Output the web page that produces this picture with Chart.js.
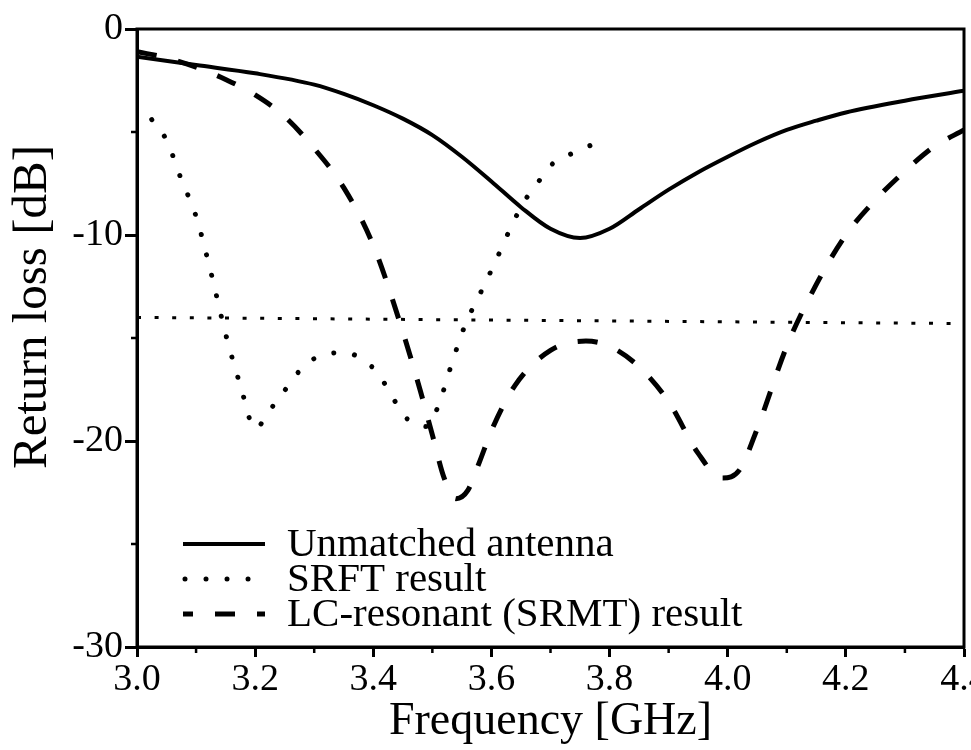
<!DOCTYPE html>
<html>
  <head>
    <title>Return loss</title>
    <script src="https://cdn.jsdelivr.net/npm/chart.js"></script>
    <style>
      html, body { margin: 0; padding: 0; background: #fff; overflow: hidden; }
      #box { width: 1000px; height: 750px; }
    </style>
  </head>
  <body>
    <div id="box">
      <canvas id="grafico" width="1000" height="750"></canvas>
    </div>

<script>
  // valores (frequencia em GHz, perda de retorno em dB)
  const freqSemCasamento = [3.00, 3.10, 3.20, 3.30, 3.35, 3.40, 3.45, 3.50, 3.55, 3.60, 3.65, 3.70, 3.75,
    3.80, 3.85, 3.90, 3.95, 4.00, 4.05, 4.10, 4.15, 4.20, 4.30, 4.40];
  const perdaSemCasamento = [-1.35, -1.75, -2.15, -2.7, -3.15, -3.7, -4.35, -5.15, -6.2, -7.4, -8.65, -9.7, -10.15,
    -9.7, -8.75, -7.8, -6.95, -6.2, -5.5, -4.9, -4.45, -4.05, -3.48, -3.0];

  const freqSRFT = [3.025, 3.05, 3.075, 3.10, 3.125, 3.15, 3.175, 3.20, 3.225, 3.25, 3.275, 3.30, 3.35,
    3.385, 3.41, 3.435, 3.46, 3.49, 3.51, 3.53, 3.555, 3.58, 3.605, 3.635, 3.655, 3.68, 3.705, 3.74, 3.78];
  const perdaSRFT = [-4.4, -5.4, -7.3, -9.1, -11.8, -14.8, -17.3, -19.4, -18.5, -17.55, -16.6, -16.0, -15.7,
    -16.1, -16.8, -18.0, -19.0, -19.3, -18.3, -16.5, -14.4, -12.9, -11.4, -9.5, -8.4, -7.4, -6.5, -6.0, -5.5];

  const freqLC = [3.00, 3.05, 3.10, 3.15, 3.20, 3.25, 3.30, 3.35, 3.40, 3.45, 3.48, 3.50, 3.52, 3.54, 3.56,
    3.58, 3.60, 3.64, 3.70, 3.76, 3.80, 3.85, 3.90, 3.95, 3.99, 4.02, 4.05, 4.10, 4.15, 4.20, 4.25, 4.30, 4.35, 4.40];
  const perdaLC = [-1.1, -1.4, -1.85, -2.45, -3.2, -4.25, -5.8, -7.7, -10.5, -14.7, -17.6, -19.7, -21.8, -22.8, -22.4,
    -21.0, -19.5, -17.3, -15.6, -15.15, -15.4, -16.4, -18.1, -20.6, -21.8, -21.4, -19.4, -15.4, -12.4, -10.0, -8.3, -6.9, -5.7, -4.9];

  // linha de referencia horizontal
  const freqRef = [3.0, 4.4];
  const perdaRef = [-14.0, -14.3];

  const rotulos = ["Unmatched antenna", "SRFT result", "LC-resonant (SRMT) result"];
  const tituloY = "Return loss [dB]";

  const fonte = "'Liberation Serif', 'Times New Roman', serif";

  function pontos(xs, ys) {
    return xs.map((x, i) => ({ x: x, y: ys[i] }));
  }

  // moldura + ticks menores + titulo do eixo y
  const molduraPlugin = {
    id: "moldura",
    afterDraw(chart) {
      const ctx = chart.ctx;
      const a = chart.chartArea;
      const sx = chart.scales.x;
      const sy = chart.scales.y;
      ctx.save();
      ctx.strokeStyle = "#000";
      ctx.lineWidth = 3;
      ctx.strokeRect(a.left, a.top, a.right - a.left, a.bottom - a.top);
      ctx.lineWidth = 2.5;
      ctx.beginPath();
      for (let f = 3.1; f < 4.4; f += 0.2) {
        const px = sx.getPixelForValue(f);
        ctx.moveTo(px, a.bottom);
        ctx.lineTo(px, a.bottom + 6);
      }
      for (let v = -25; v < 0; v += 10) {
        const py = sy.getPixelForValue(v);
        ctx.moveTo(a.left, py);
        ctx.lineTo(a.left - 6, py);
      }
      ctx.stroke();

      // titulo do eixo y, um pouco acima do centro como no original
      ctx.translate(33, (a.top + a.bottom) / 2 - 31);
      ctx.rotate(-Math.PI / 2);
      ctx.font = "49px " + fonte;
      ctx.fillStyle = "#000";
      ctx.textAlign = "center";
      ctx.textBaseline = "middle";
      ctx.fillText(tituloY, 0, 0);
      ctx.restore();
    }
  };

  // legenda dentro da area do grafico
  const legendaPlugin = {
    id: "legenda",
    afterDraw(chart) {
      const ctx = chart.ctx;
      const a = chart.chartArea;
      ctx.save();
      ctx.font = "41px " + fonte;
      ctx.fillStyle = "#000";
      ctx.textBaseline = "middle";
      for (let i = 0; i < rotulos.length; i++) {
        const ds = chart.data.datasets[i];
        const y = a.bottom - 103 + i * 35;
        ctx.strokeStyle = "#000";
        ctx.lineWidth = ds.borderWidth;
        ctx.lineCap = ds.borderCapStyle || "butt";
        ctx.setLineDash(ds.borderDash || []);
        ctx.lineDashOffset = i == 2 ? 10 : -2;
        ctx.beginPath();
        ctx.moveTo(a.left + 46, y);
        ctx.lineTo(a.left + 128, y);
        ctx.stroke();
        ctx.setLineDash([]);
        ctx.fillText(rotulos[i], a.left + 150, y + 1);
      }
      ctx.restore();
    }
  };

  const config = {
    type: "line",
    data: {
      datasets: [
        {
          label: rotulos[0],
          data: pontos(freqSemCasamento, perdaSemCasamento),
          borderColor: "#000",
          borderWidth: 4,
          pointRadius: 0,
          cubicInterpolationMode: "monotone",
        },
        {
          label: rotulos[1],
          data: pontos(freqSRFT, perdaSRFT),
          borderColor: "#000",
          borderWidth: 5,
          borderDash: [0.01, 21],
          borderCapStyle: "round",
          pointRadius: 0,
          cubicInterpolationMode: "monotone",
        },
        {
          label: rotulos[2],
          data: pontos(freqLC, perdaLC),
          borderColor: "#000",
          borderWidth: 5,
          borderDash: [20, 22],
          pointRadius: 0,
          cubicInterpolationMode: "monotone",
        },
        {
          label: "ref",
          data: pontos(freqRef, perdaRef),
          borderColor: "#000",
          borderWidth: 3,
          borderDash: [4, 13.6],
          pointRadius: 0,
        },
      ],
    },
    options: {
      responsive: false,
      animation: false,
      devicePixelRatio: 1,
      layout: { padding: { top: 29, right: 36, left: 0, bottom: 0 } },
      plugins: {
        legend: { display: false },
        tooltip: { enabled: false },
      },
      scales: {
        x: {
          type: "linear",
          min: 3.0,
          max: 4.4,
          afterFit(scale) { scale.height = 103; },
          afterBuildTicks(scale) {
            scale.ticks = [3.0, 3.2, 3.4, 3.6, 3.8, 4.0, 4.2, 4.4].map((v) => ({ value: v }));
          },
          border: { color: "#000", width: 3 },
          grid: { drawOnChartArea: false, color: "#000", tickLength: 10, tickWidth: 3 },
          ticks: {
            color: "#000",
            padding: 0,
            maxRotation: 0,
            autoSkip: false,
            font: { family: fonte, size: 38 },
            callback: (v) => Number(v).toFixed(1),
          },
          title: {
            display: true,
            text: "Frequency [GHz]",
            color: "#000",
            font: { family: fonte, size: 46 },
            padding: { top: 0, bottom: 0 },
          },
        },
        y: {
          min: -30,
          max: 0,
          afterFit(scale) { scale.width = 137; },
          border: { color: "#000", width: 3 },
          grid: { drawOnChartArea: false, color: "#000", tickLength: 12, tickWidth: 3 },
          ticks: {
            stepSize: 10,
            color: "#000",
            padding: 2,
            font: { family: fonte, size: 38 },
            callback: (v) => String(v),
          },
        },
      },
    },
    plugins: [molduraPlugin, legendaPlugin],
  };

  new Chart(document.getElementById("grafico"), config);
</script>
  </body>
</html>
